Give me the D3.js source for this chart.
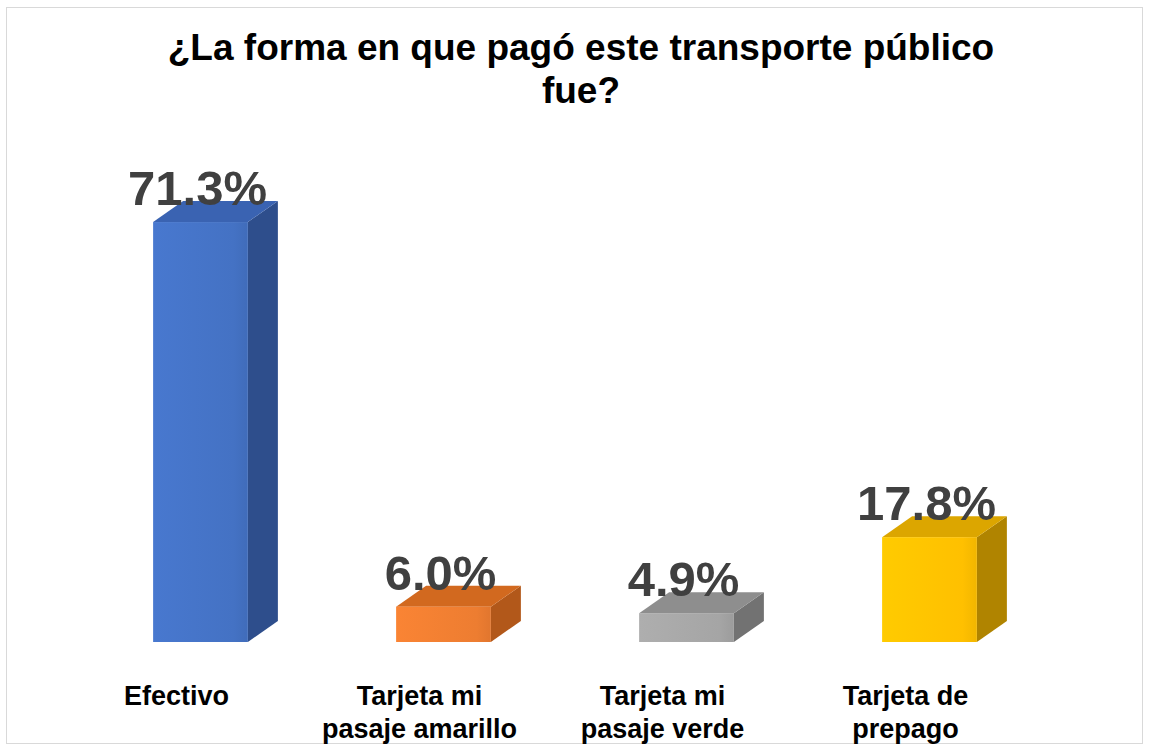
<!DOCTYPE html>
<html>
<head>
<meta charset="utf-8">
<script src="https://cdn.jsdelivr.net/npm/d3@7"></script>
<style>
  html, body { margin: 0; padding: 0; background: #ffffff; }
  svg { display: block; }
</style>
</head>
<body>
<svg id="chart" width="1150" height="753"></svg>
<script>
// ---- data ----
const categories = ["Efectivo", "Tarjeta mi pasaje amarillo", "Tarjeta mi pasaje verde", "Tarjeta de prepago"];
const categoryLines = [["Efectivo"], ["Tarjeta mi", "pasaje amarillo"], ["Tarjeta mi", "pasaje verde"], ["Tarjeta de", "prepago"]];
const values = [71.3, 6.0, 4.9, 17.8];
const titleLines = ["¿La forma en que pagó este transporte público", "fue?"];
const frontColors = ["#4472C4", "#ED7D31", "#A5A5A5", "#FFC000"];
const topColors = ["#3A63B2", "#D2691F", "#8E8E8E", "#DCA600"];
const sideColors = ["#2E4E8C", "#B2581A", "#727272", "#B08400"];

// ---- layout ----
const svg = d3.select("#chart");
const W = 1150, H = 753;
const baseY = 642;
const depthX = 30, depthY = 21;

svg.append("rect")
  .attr("x", 6.5).attr("y", 7.5).attr("width", 1136).attr("height", 736)
  .attr("fill", "#ffffff").attr("stroke", "#d9d9d9").attr("stroke-width", 1);

const x = d3.scaleBand()
  .domain(categories)
  .range([79, 1051])
  .paddingInner(0.61)
  .paddingOuter(0.305);

const y = d3.scaleLinear()
  .domain([0, 80])
  .range([baseY, baseY - 80 * 5.89]);

// title
const title = svg.append("text")
  .attr("text-anchor", "middle")
  .attr("font-family", "Liberation Sans, Arial, sans-serif")
  .attr("font-weight", "bold")
  .attr("font-size", 37)
  .attr("fill", "#000000");
titleLines.forEach((t, i) => {
  title.append("tspan").attr("x", 581).attr("y", 60 + i * 43).text(t);
});

// gradients for front faces
const defs = svg.append("defs");
frontColors.forEach((c, i) => {
  const g = defs.append("linearGradient").attr("id", "fg" + i)
    .attr("x1", 0).attr("y1", 0).attr("x2", 1).attr("y2", 0);
  g.append("stop").attr("offset", "0%").attr("stop-color", d3.color(c).brighter(0.15));
  g.append("stop").attr("offset", "85%").attr("stop-color", c);
  g.append("stop").attr("offset", "100%").attr("stop-color", d3.color(c).darker(0.15));
});

const bars = svg.append("g").selectAll("g")
  .data(categories)
  .join("g");

bars.each(function(cat, i) {
  const g = d3.select(this);
  const x0 = x(cat), x1 = x(cat) + x.bandwidth();
  const yt = y(values[i]);
  // side face
  g.append("path")
    .attr("d", `M${x1},${yt} L${x1 + depthX},${yt - depthY} L${x1 + depthX},${baseY - depthY} L${x1},${baseY} Z`)
    .attr("fill", sideColors[i]);
  // top face
  g.append("path")
    .attr("d", `M${x0},${yt} L${x0 + depthX},${yt - depthY} L${x1 + depthX},${yt - depthY} L${x1},${yt} Z`)
    .attr("fill", topColors[i]);
  // front face
  g.append("rect")
    .attr("x", x0).attr("y", yt)
    .attr("width", x.bandwidth()).attr("height", baseY - yt)
    .attr("fill", "url(#fg" + i + ")");
});

// value labels
svg.append("g").selectAll("text")
  .data(categories)
  .join("text")
  .attr("x", d => x(d) + x.bandwidth() / 2 - 3)
  .attr("y", (d, i) => y(values[i]) - depthY + 4)
  .attr("text-anchor", "middle")
  .attr("font-family", "Liberation Sans, Arial, sans-serif")
  .attr("font-weight", "bold")
  .attr("font-size", 49)
  .attr("fill", "#404040")
  .text((d, i) => d3.format(".1f")(values[i]) + "%");

// category labels
const cl = svg.append("g").selectAll("text")
  .data(categories)
  .join("text")
  .attr("text-anchor", "middle")
  .attr("font-family", "Liberation Sans, Arial, sans-serif")
  .attr("font-weight", "bold")
  .attr("font-size", 27)
  .attr("fill", "#000000");
cl.each(function(d, i) {
  const t = d3.select(this);
  categoryLines[i].forEach((line, j) => {
    t.append("tspan")
      .attr("x", x(d) + x.bandwidth() / 2 - 24)
      .attr("y", 705 + j * 33)
      .text(line);
  });
});
</script>
</body>
</html>
